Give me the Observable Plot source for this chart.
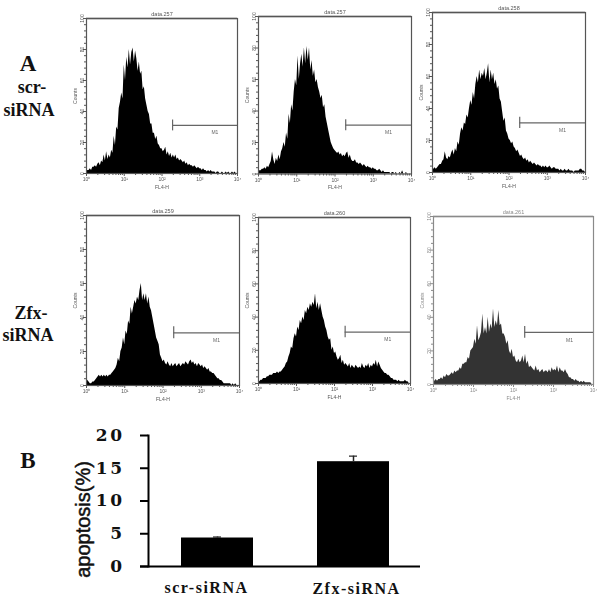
<!DOCTYPE html>
<html><head><meta charset="utf-8">
<script src="https://cdn.jsdelivr.net/npm/d3@7"></script>
<script src="https://cdn.jsdelivr.net/npm/@observablehq/plot@0.6"></script>
<style>
html,body{margin:0;padding:0;background:#fff}
#page{position:relative;width:600px;height:603px;overflow:hidden;background:#fff}
#page svg{position:absolute;background:transparent}
#page svg.hist{filter:blur(.45px)}
svg.bar g[aria-label="x-axis tick label"]{letter-spacing:1.5px}
svg.bar g[aria-label="y-axis tick label"]{letter-spacing:2.5px}
.lab{position:absolute;font-family:"Liberation Serif",serif;font-weight:bold;color:#111;white-space:nowrap;transform:translateX(-50%);line-height:1}
</style></head><body><div id="page"></div>
<script>
const counts1 = [1,2,2,3,2,4,4,5,4,6, 7,5,8,7,12,8,14,9,12,10, 15,13,24,18,30,28,42,46,52,48, 70,60,75,68,80,70,78,81,72,79, 74,66,72,64,66,54,56,48,44,40, 38,32,32,26,26,22,24,19,18,16, 16,14,15,17,12,14,11,13,10,12, 10,12,9,10,8,9,8,7,8,6, 7,5,6,5,5,4,5,4,3,4, 3,3,2,3,2,2,1,2,1,2, 1,1,1,0,1,1,0,0,1,0, 0,1,0,1,0,0,1,0,1,0];
const counts2 = [1,2,2,3,3,4,3,5,4,6, 8,14,9,6,10,8,12,9,14,16, 20,17,26,22,38,32,44,40,52,60, 56,75,60,70,76,68,80,70,81,72, 80,66,72,62,66,58,60,55,52,48, 50,42,44,36,32,28,24,20,18,16, 15,14,13,14,12,13,11,12,11,13, 14,10,12,9,8,8,9,7,7,6, 7,6,5,6,5,4,5,4,4,3, 4,3,3,2,2,3,2,1,2,1, 1,1,1,1,0,1,1,0,1,0, 0,1,0,2,0,0,1,0,0,0];
const counts3 = [2,2,3,2,3,4,5,5,7,8, 13,9,8,10,9,12,14,11,15,13, 19,17,24,28,26,31,30,36,34,40, 45,42,50,46,55,60,56,64,58,62, 60,65,58,62,68,56,64,58,62,55, 58,52,54,46,44,38,32,34,26,24, 21,20,18,19,16,15,13,14,12,10, 11,9,8,9,7,8,6,7,6,5, 6,5,4,5,4,4,3,4,3,4, 3,3,4,3,2,3,3,2,2,2, 1,2,1,1,2,1,1,2,1,1, 1,0,1,1,1,1,2,2,1,1];
const counts4 = [4,3,2,1,1,2,2,3,4,5, 6,5,6,5,6,5,6,5,6,6, 7,8,9,10,12,16,14,20,22,28, 24,32,30,38,36,46,42,46,50,48, 52,50,56,60,50,54,50,54,48,52, 46,44,40,36,32,28,26,24,18,16, 14,15,13,12,14,12,11,13,11,12, 13,11,12,13,11,12,13,12,14,13, 12,14,15,13,14,12,13,11,13,12, 11,12,10,11,10,9,10,8,8,7, 7,6,5,4,4,3,3,2,1,1, 1,1,1,1,0,1,0,1,0,0];
const counts5 = [1,1,2,2,3,3,3,4,4,5, 5,5,6,6,6,7,6,7,7,8, 9,10,12,13,16,18,22,21,27,30, 28,34,32,38,36,40,38,44,42,46, 44,48,46,49,47,54,45,49,44,48, 44,40,38,34,32,28,26,27,20,22, 18,19,16,14,15,17,12,14,11,12, 11,10,12,9,11,10,9,11,10,9, 10,9,12,10,9,11,10,12,9,11, 10,12,11,14,10,13,11,9,8,7, 6,6,5,5,4,3,3,2,2,2, 1,2,1,1,1,1,2,1,1,0];
const counts6 = [2,2,3,2,3,3,4,3,5,4, 6,5,5,6,7,6,8,7,8,8, 10,9,12,12,13,13,16,15,20,21, 22,27,24,35,26,28,31,42,30,34, 30,40,31,36,33,45,34,38,35,44, 35,36,30,30,28,24,26,20,18,21, 16,17,14,13,15,13,14,17,13,18, 12,14,10,11,10,9,8,11,8,9, 7,8,9,7,8,8,7,9,7,10, 8,9,8,11,7,10,8,8,7,9, 7,6,4,4,3,3,2,3,2,2, 1,2,1,2,1,1,1,1,1,0];

const titles = ["data.257","data.257","data.258","data.259","data.260","data.261"];
const decades = [0,1,2,3,4];
const sup = ["⁰","¹","²","³","⁴"];
const minorX = [0.3,0.48,0.6,0.7,0.78,0.85,0.9,0.95,1.3,1.48,1.6,1.7,1.78,1.85,1.9,1.95,2.3,2.48,2.6,2.7,2.78,2.85,2.9,2.95,3.3,3.48,3.6,3.7,3.78,3.85,3.9,3.95];
const countTicks = [0,20,40,60,80,100];
const minorY = [4,8,12,16,24,28,32,36,44,48,52,56,64,68,72,76,84,88,92,96];
const gate = {x1:2.28, x2:4, y:31};

const groups = ["scr-siRNA","Zfx-siRNA"];
const apoptosis = [4.35,16];
const errorTop = [4.5,16.85];
const apoTicks = [0,5,10,15,20];

const page = document.getElementById("page");

function histogram(counts, title, box, fill, ink){
  const m = {l:24,r:8,t:12,b:24};
  const pts = counts.map((y,i)=>({x:i*4/counts.length,y})).concat([{x:4,y:0}]);
  const font = {fontFamily:"Liberation Sans, sans-serif",fontSize:5};
  const svg = Plot.plot({
    width: box.x2-box.x1+m.l+m.r, height: box.y2-box.y1+m.t+m.b,
    marginLeft:m.l, marginRight:m.r, marginTop:m.t, marginBottom:m.b,
    style:{background:"transparent"},
    x:{type:"linear",domain:[0,4]}, y:{domain:[0,100]},
    marks:[
      Plot.areaY(pts,{x:"x",y:"y",fill,curve:"linear"}),
      Plot.frame({stroke:ink,strokeWidth:1.2}),
      Plot.ruleY([100],{stroke:ink,strokeWidth:1.6}),
      Plot.axisY({ticks:minorY,tickSize:2,fill:"none",stroke:ink,label:null}),
      Plot.axisY({ticks:countTicks,tickSize:3,tickPadding:0,tickRotate:-90,stroke:ink,fill:ink,label:"Counts",labelAnchor:"center",labelArrow:"none",labelOffset:13,...font}),
      Plot.axisX({ticks:minorX,tickSize:2,fill:"none",stroke:ink,label:null}),
      Plot.axisX({ticks:decades,tickSize:3,tickPadding:1,stroke:ink,fill:ink,tickFormat:d=>"10"+sup[d],label:"FL4-H",labelAnchor:"center",labelArrow:"none",labelOffset:15,...font}),
      Plot.ruleY([gate.y],{x1:gate.x1,x2:gate.x2,stroke:"#666",strokeWidth:1.2}),
      Plot.ruleX([gate.x1],{y1:gate.y-3.5,y2:gate.y+3.5,stroke:"#666",strokeWidth:1.2}),
      Plot.text(["M1"],{x:3.4,y:gate.y-4.5,fill:"#666",fontFamily:"Liberation Sans, sans-serif",fontSize:5}),
      Plot.text([title],{frameAnchor:"top",dy:-6,fill:ink,fontFamily:"Liberation Sans, sans-serif",fontSize:5.5})
    ]
  });
  svg.classList.add("hist");
  svg.style.left = (box.x1-m.l)+"px";
  svg.style.top = (box.y1-m.t)+"px";
  page.appendChild(svg);
}

histogram(counts1,titles[0],{x1:86,x2:237,y1:18,y2:173},"#000","#555");
histogram(counts2,titles[1],{x1:258,x2:411,y1:15.5,y2:173},"#000","#555");
histogram(counts3,titles[2],{x1:432,x2:585,y1:12,y2:172},"#000","#555");
histogram(counts4,titles[3],{x1:86,x2:239,y1:215,y2:385},"#000","#555");
histogram(counts5,titles[4],{x1:258,x2:410,y1:217,y2:383},"#000","#555");
histogram(counts6,titles[5],{x1:433,x2:593,y1:216,y2:384},"#333","#8a8a8a");

const bars = groups.map((g,i)=>({g,v:apoptosis[i],e:errorTop[i]}));
const serif = "Liberation Serif, serif";
const xFont = {tickSize:0,tickPadding:14,fontFamily:serif,fontWeight:"bold",fontSize:16,fill:"#111",label:null};
const chart = Plot.plot({
  width:440, height:183, marginLeft:140, marginRight:20, marginTop:15, marginBottom:37,
  style:{background:"transparent"},
  x:{domain:groups,paddingInner:0.474,paddingOuter:0.259,align:0.564,label:null,axis:null},
  y:{domain:[0,20],label:null,axis:null},
  marks:[
    Plot.barY(bars,{x:"g",y:"v",fill:"#000"}),
    Plot.ruleX(bars,{x:"g",y1:"v",y2:"e",stroke:"#222",strokeWidth:1.5}),
    Plot.tickY(bars,{x:"g",y:"e",stroke:"#222",strokeWidth:1.2,insetLeft:32,insetRight:32}),
    Plot.ruleY([0],{stroke:"#000",strokeWidth:2}),
    Plot.frame({anchor:"left",dx:8,stroke:"#000",strokeWidth:2}),
    Plot.axisY({ticks:apoTicks,tickSize:8,dx:8,tickPadding:16,strokeWidth:2,stroke:"#000",fontFamily:"DejaVu Serif, serif",fontWeight:"bold",fontSize:17,label:null,fill:"#111"}),
    Plot.axisX({ticks:[groups[0]],dx:-11,dy:1,...xFont}),
    Plot.axisX({ticks:[groups[1]],dx:3,dy:2,...xFont}),
    Plot.text(["apoptosis(%)"],{frameAnchor:"left",textAnchor:"middle",dx:-57,dy:18.5,rotate:-90,fontFamily:"Liberation Sans, sans-serif",fontSize:20,fontWeight:"normal",fill:"#111",stroke:"#111",strokeWidth:.5})
  ]
});
chart.classList.add("bar");
chart.style.left="0px"; chart.style.top="420px";
page.appendChild(chart);

[["A",28,52,23],["scr-",32,78,18],["siRNA",29,101,18],["Zfx-",31,304,18],["siRNA",28,326,18],["B",28,449,23]]
.forEach(([t,x,y,s])=>{const d=document.createElement("div");d.className="lab";d.textContent=t;d.style.left=x+"px";d.style.top=y+"px";d.style.fontSize=s+"px";page.appendChild(d);});
</script></body></html>
